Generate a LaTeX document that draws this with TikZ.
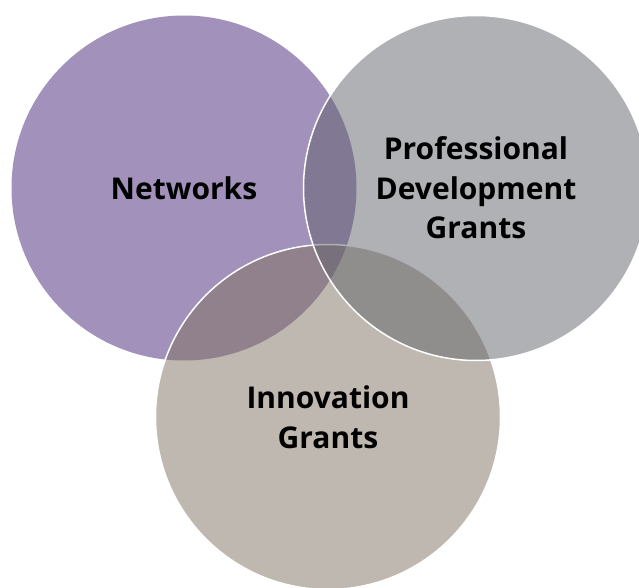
\documentclass[tikz,border=0pt]{standalone}
\usepackage{fontspec}
\setmainfont{Open Sans}
\usepackage{tikz}

\definecolor{netpurple}{RGB}{69,35,119}
\definecolor{innotaupe}{RGB}{127,113,97}
\definecolor{profgray}{RGB}{97,99,107}

\begin{document}
\begin{tikzpicture}[x=1pt,y=-1pt,
  venn/.style={circle,minimum size=345pt,inner sep=0pt,fill opacity=0.5,text opacity=1,
    align=center,font=\fontsize{30}{39.5}\selectfont\bfseries},
  rim/.style={draw=white,line width=1.5pt}]
		\useasboundingbox (0,0) rectangle (639,588);
		
		\node[venn,fill=netpurple] (networks) at (184,188) {Networks};
		\node[venn,rim,fill=innotaupe] (innovation) at (328,417) {Innovation\\Grants};
		\node[venn,rim,fill=profgray] (profdev) at (476,188) {Professional\\Development\\Grants};
\end{tikzpicture}
\end{document}
